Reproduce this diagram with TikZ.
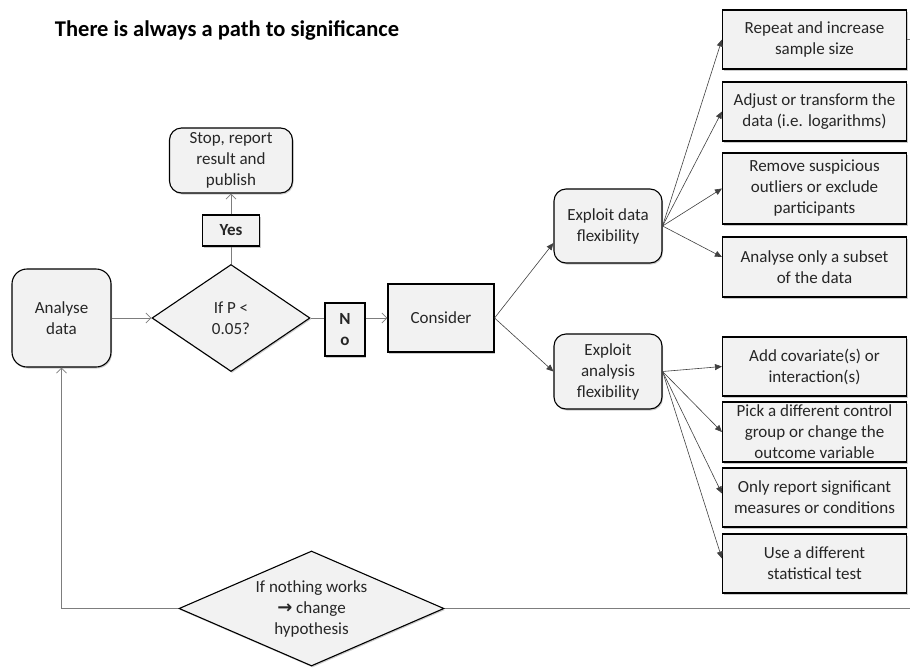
\documentclass[tikz,border=0pt]{standalone}
\usepackage{fontspec}
\setmainfont{Carlito}
\newfontfamily\arrowfont{DejaVu Sans}
\usetikzlibrary{shapes.geometric, arrows.meta, positioning, shadows}
\definecolor{boxfill}{RGB}{242,242,242}
\definecolor{linegray}{RGB}{125,125,125}
\tikzset{
    boxtext/.style={font=\fontsize{17}{21}\selectfont, align=center, text=black!85},
    roundbox/.style={rectangle, rounded corners=12pt, draw=black, fill=boxfill, line width=1.1pt, inner sep=1pt, boxtext, drop shadow={shadow xshift=1pt, shadow yshift=-1.5pt, opacity=0.4}},
    sqbox/.style={rectangle, draw=black, fill=boxfill, line width=1.1pt, inner sep=1pt, boxtext, drop shadow={shadow xshift=1pt, shadow yshift=-1.5pt, opacity=0.4}},
    answer/.style={sqbox, font=\bfseries\fontsize{17}{21}\selectfont},
    decision/.style={diamond, draw=black, fill=boxfill, line width=1.1pt, inner sep=0pt, boxtext, drop shadow={shadow xshift=1pt, shadow yshift=-1.5pt, opacity=0.4}},
    line/.style={draw=linegray, line width=0.8pt},
    flow/.style={line, -{Straight Barb[length=5pt,width=10pt]}},
    branch/.style={draw=black!75, line width=0.6pt, -{Triangle[length=7pt,width=6pt]}}
}
\begin{document}
\begin{tikzpicture}
\useasboundingbox (0,0) rectangle (910pt,-667pt);

\node (title) [font=\bfseries\fontsize{22.5}{27}\selectfont] at (227pt,-30pt) {There is always a path to significance};

% Main flow
\node (analyse) [roundbox, rounded corners=15pt, minimum width=99pt, minimum height=98pt] at (61.5pt,-318pt) {Analyse\\data};
\node (pcheck) [decision, node distance=169.5pt, right of=analyse, minimum width=158pt, minimum height=107pt] {If P <\\0.05?};
\node (yes) [answer, node distance=87.5pt, above of=pcheck, minimum width=57pt, minimum height=31pt] {Yes};
\node (stop) [roundbox, node distance=70pt, above of=yes, minimum width=123pt, minimum height=65pt] {Stop, report\\result and\\publish};
\node (no) [answer, node distance=114pt, right of=pcheck, yshift=-11.5pt, minimum width=40pt, minimum height=53pt] {N\\o};
\node (consider) [sqbox, node distance=210pt, right of=pcheck, minimum width=106pt, minimum height=68pt] {Consider};
\node (giveup) [decision, node distance=290.5pt, below of=pcheck, xshift=80.5pt, aspect=2.3, minimum width=265pt, minimum height=115pt] {If nothing works\\{\arrowfont\bfseries\fontsize{18}{21}\selectfont →} change\\hypothesis};

% Flexibility
\node (dataflex) [roundbox, node distance=167pt, right of=consider, yshift=92pt, minimum width=108pt, minimum height=74pt] {Exploit data\\flexibility};
\node (anaflex) [roundbox, node distance=167pt, right of=consider, yshift=-53.5pt, minimum width=108pt, minimum height=75pt] {Exploit\\analysis\\flexibility};

% Data options
\node (remove) [sqbox, node distance=206.5pt, right of=dataflex, yshift=37.5pt, minimum width=184pt, minimum height=71pt] {Remove suspicious\\outliers or exclude\\participants};
\node (adjust) [sqbox, node distance=77pt, above of=remove, minimum width=184pt, minimum height=59pt] {Adjust or transform the\\data (i.e. logarithms)};
\node (repeat) [sqbox, node distance=72pt, above of=adjust, minimum width=184pt, minimum height=59pt] {Repeat and increase\\sample size};
\node (subset) [sqbox, node distance=78.5pt, below of=remove, minimum width=184pt, minimum height=60pt] {Analyse only a subset\\of the data};

% Analysis options
\node (covar) [sqbox, node distance=206.5pt, right of=anaflex, yshift=5pt, minimum width=184pt, minimum height=59pt] {Add covariate(s) or\\interaction(s)};
\node (pick) [sqbox, node distance=65.5pt, below of=covar, minimum width=184pt, minimum height=60pt] {Pick a different control\\group or change the\\outcome variable};
\node (report) [sqbox, node distance=65.5pt, below of=pick, minimum width=184pt, minimum height=59pt] {Only report significant\\measures or conditions};
\node (usetest) [sqbox, node distance=66pt, below of=report, minimum width=184pt, minimum height=59pt] {Use a different\\statistical test};

% Arrows
\draw [flow] (analyse) -- (pcheck);
\draw [line] (pcheck) -- (yes);
\draw [flow] (yes) -- (stop);
\draw [line] (pcheck.east) -- (pcheck.east -| no.west);
\draw [flow] (no.east |- consider.west) -- (consider.west);
\draw [branch] (consider.east) -- ([yshift=-17pt]dataflex.west);
\draw [branch] (consider.east) -- (anaflex.west);
\draw [branch] (dataflex.east) -- (repeat.west);
\draw [branch] (dataflex.east) -- (adjust.west);
\draw [branch] (dataflex.east) -- (remove.west);
\draw [branch] (dataflex.east) -- ([yshift=10pt]subset.west);
\draw [branch] (anaflex.east) -- (covar.west);
\draw [branch] (anaflex.east) -- (pick.west);
\draw [branch] (anaflex.east) -- ([yshift=4pt]report.west);
\draw [branch] (anaflex.east) -- ([yshift=5pt]usetest.west);
\draw [line] (repeat.east) -- ++(10pt,0);
\draw [line] (giveup.east) -- ++(480pt,0);
\draw [flow] (giveup.west) -| (analyse.south);

\end{tikzpicture}
\end{document}
